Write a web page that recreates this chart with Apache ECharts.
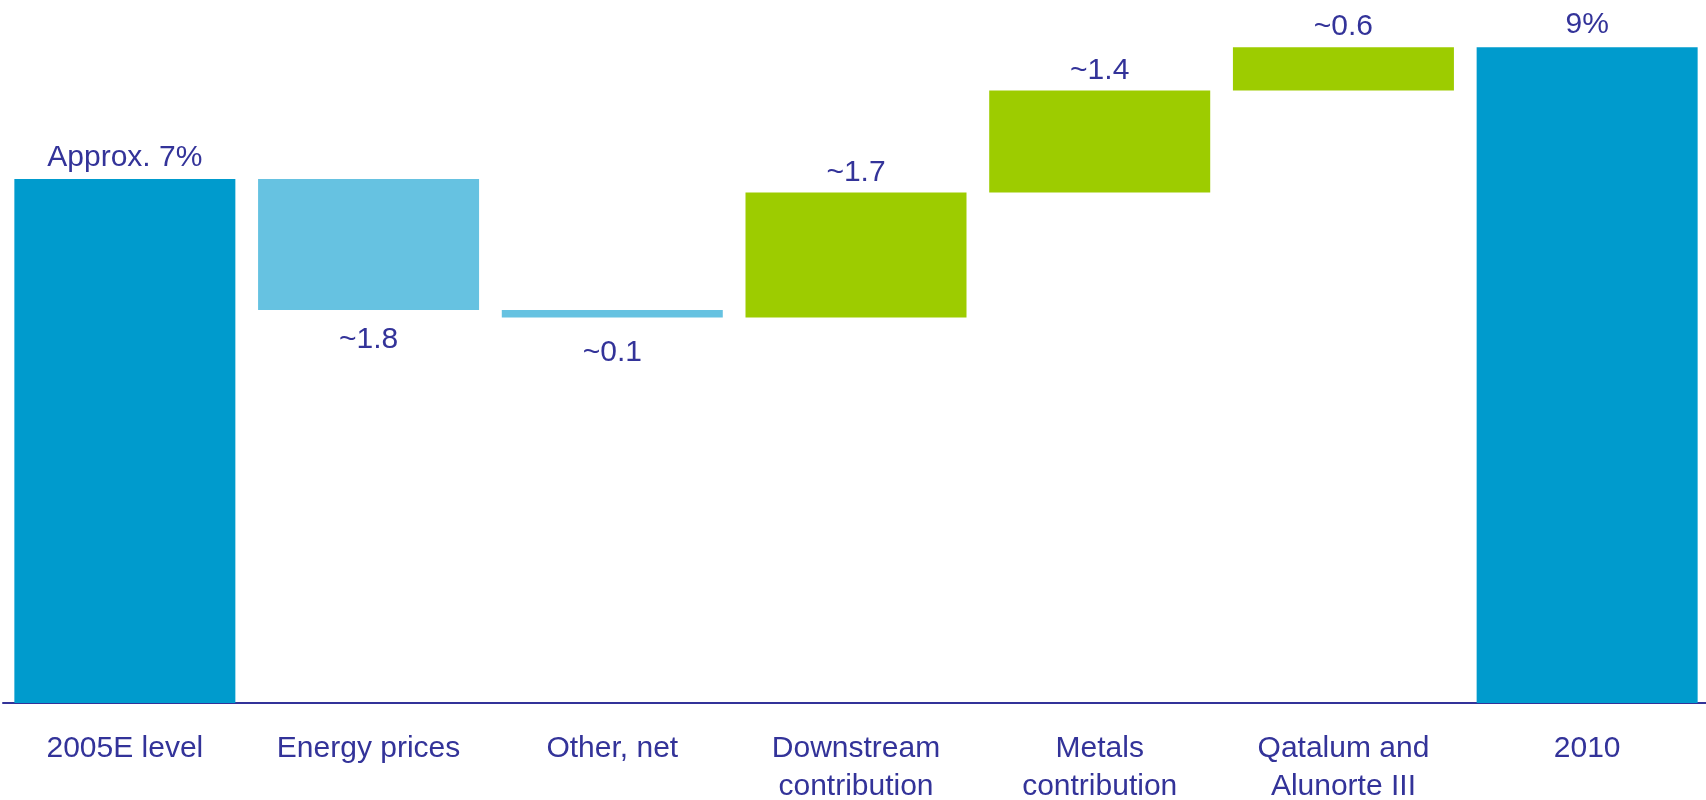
<!DOCTYPE html>
<html>
<head>
<meta charset="utf-8">
<script src="https://cdn.jsdelivr.net/npm/echarts@6/dist/echarts.min.js"></script>
<style>
  html, body { margin: 0; padding: 0; background: #ffffff; }
  #chart { width: 1706px; height: 800px; }
</style>
</head>
<body>
<div id="chart"></div>
<script>
// ---- Data ----
var categories = ['2005E level', 'Energy prices', 'Other, net', 'Downstream\ncontribution', 'Metals\ncontribution', 'Qatalum and\nAlunorte III', '2010'];
var startValue = 7.0;
var deltas = [-1.75, -0.1, 1.67, 1.36, 0.58];
var endValue = 8.76;
var valueLabels = ['Approx. 7%', '~1.8', '~0.1', '~1.7', '~1.4', '~0.6', '9%'];

// ---- Build waterfall (invisible base + visible step) ----
var FONT = 'Liberation Sans, Arial, Helvetica, sans-serif';
var TEXT = '#333399';
var C_TOTAL = '#009BCD';
var C_NEG = '#66C2E1';
var C_POS = '#9DCC00';

var baseData = [0];
var stepData = [];
stepData.push({ value: startValue, itemStyle: { color: C_TOTAL }, label: { position: 'top', distance: 6 } });
var running = startValue;
deltas.forEach(function (d) {
  if (d < 0) {
    baseData.push(running + d);
    stepData.push({ value: -d, itemStyle: { color: C_NEG }, label: { position: 'bottom', distance: d > -0.5 ? 20 : 15 } });
  } else {
    baseData.push(running);
    stepData.push({ value: d, itemStyle: { color: C_POS }, label: { position: 'top', distance: 5 } });
  }
  running += d;
});
baseData.push(0);
stepData.push({ value: endValue, itemStyle: { color: C_TOTAL }, label: { position: 'top', distance: 7 } });

var chart = echarts.init(document.getElementById('chart'), null, { renderer: 'canvas' });
chart.setOption({
  animation: false,
  backgroundColor: '#ffffff',
  grid: { left: 3, right: -3, top: 3, bottom: 97, containLabel: false, outerBoundsMode: 'none' },
  xAxis: {
    type: 'category',
    data: categories,
    axisLine: { show: true, lineStyle: { color: '#333399', width: 2 } },
    axisTick: { show: false },
    axisLabel: {
      interval: 0,
      margin: 27,
      color: TEXT,
      fontFamily: FONT,
      fontSize: 30,
      lineHeight: 38,
      verticalAlign: 'top'
    }
  },
  yAxis: {
    type: 'value',
    min: 0,
    max: 9.35,
    show: false,
    splitLine: { show: false }
  },
  series: [
    {
      type: 'bar',
      stack: 'wf',
      data: baseData,
      itemStyle: { color: 'rgba(0,0,0,0)' },
      barWidth: 221,
      silent: true
    },
    {
      type: 'bar',
      stack: 'wf',
      data: stepData,
      barWidth: 221,
      label: {
        show: true,
        color: TEXT,
        fontFamily: FONT,
        fontSize: 30,
        formatter: function (p) { return valueLabels[p.dataIndex]; }
      }
    }
  ]
});
</script>
</body>
</html>
